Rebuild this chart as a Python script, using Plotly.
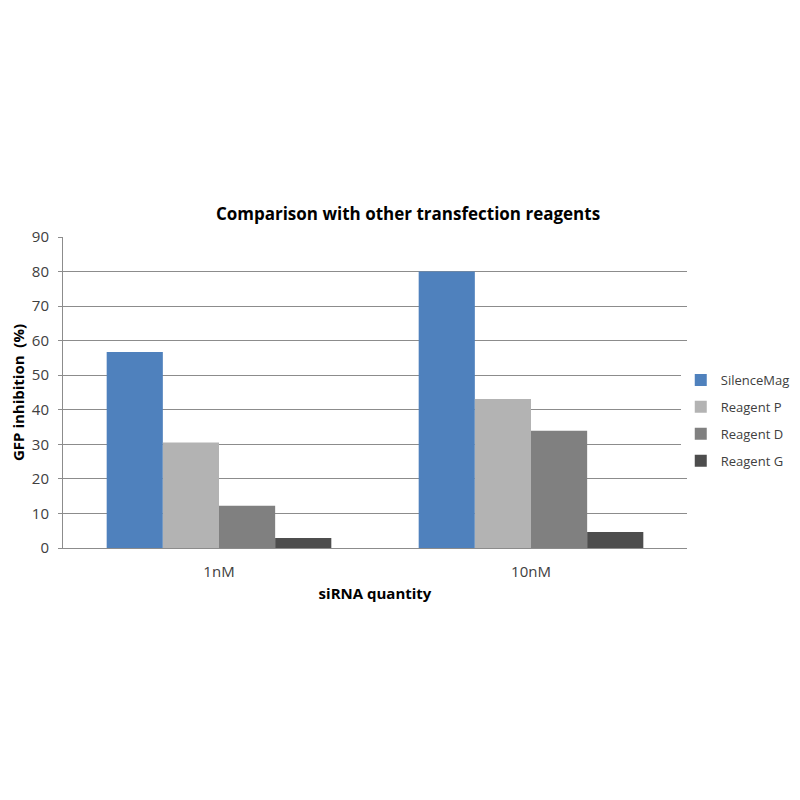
import plotly.graph_objects as go

TITLE = "Comparison with other transfection reagents"
CATEGORIES = ["1nM", "10nM"]
SERIES = ["SilenceMag", "Reagent P", "Reagent D", "Reagent G"]
VALUES = {
    "SilenceMag": [56.7, 80.0],
    "Reagent P": [30.5, 43.1],
    "Reagent D": [12.2, 33.9],
    "Reagent G": [2.9, 4.6],
}
COLORS = {
    "SilenceMag": "#4F81BD",
    "Reagent P": "#B3B3B3",
    "Reagent D": "#808080",
    "Reagent G": "#4D4D4D",
}
Y_TICKS = [0, 10, 20, 30, 40, 50, 60, 70, 80, 90]

FONT = "Open Sans, Noto Sans, sans-serif"
GRID = "#8C8C8C"

fig = go.Figure()
for name in SERIES:
    fig.add_trace(
        go.Bar(
            x=CATEGORIES,
            y=VALUES[name],
            name=name,
            legendgroup=name,
            marker={"color": COLORS[name], "line": {"width": 0}},
        ),
    )

# page body adds ~8px offset, so margins are shifted to compensate
fig.update_layout(
    width=800,
    height=800,
    paper_bgcolor="white",
    plot_bgcolor="white",
    font={"family": FONT, "size": 14, "color": "#404040"},
    title={
        "text": f"<b>{TITLE}</b>",
        "x": 0.5,
        "xanchor": "center",
        "y": 1 - 206 / 800,
        "yanchor": "middle",
        "font": {"size": 17, "color": "#000000"},
    },
    margin={"l": 55, "r": 121, "t": 229, "b": 260},
    barmode="group",
    bargap=0.28,
    bargroupgap=0,
    showlegend=True,
    legend={
        "x": 0.99,
        "xanchor": "left",
        "y": 0.41,
        "yanchor": "middle",
        "tracegroupgap": 7,
        "font": {"size": 13, "color": "#404040"},
    },
)
fig.update_xaxes(
    title={"text": "<b>siRNA quantity</b>", "font": {"size": 15, "color": "#000000"}, "standoff": 8},
    automargin=False,
    showline=True,
    linecolor=GRID,
    linewidth=1,
    ticks="",
    ticklabelstandoff=10,
    showgrid=False,
    tickfont={"size": 15},
)
fig.update_yaxes(
    title={"text": "<b>GFP inhibition  (%)</b>", "font": {"size": 15, "color": "#000000"}, "standoff": 18},
    automargin=False,
    range=[0, 90],
    tickvals=Y_TICKS,
    showgrid=True,
    gridcolor=GRID,
    gridwidth=1,
    showline=True,
    linecolor=GRID,
    linewidth=1,
    ticks="outside",
    ticklen=4,
    tickcolor=GRID,
    ticklabelstandoff=6,
    zeroline=False,
    tickfont={"size": 15},
)

fig.write_html("out.html")
